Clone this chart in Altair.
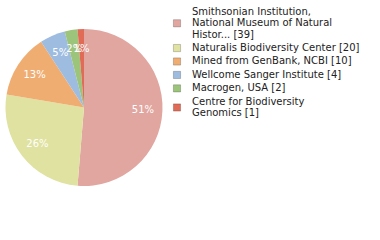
import altair as alt
import pandas as pd

labels = [
    "Smithsonian Institution,\nNational Museum of Natural\nHistor... [39]",
    "Naturalis Biodiversity Center [20]",
    "Mined from GenBank, NCBI [10]",
    "Wellcome Sanger Institute [4]",
    "Macrogen, USA [2]",
    "Centre for Biodiversity\nGenomics [1]",
]
counts = [39, 20, 10, 4, 2, 1]
pct_text = ["51%", "26%", "13%", "5%", "2%", "1%"]
colors = ["#e0a69f", "#dfe2a0", "#f0ad72", "#9dbce0", "#9dc47b", "#e06c58"]

# pie data
df = pd.DataFrame({"label": labels, "count": counts, "pct": pct_text,
                   "order": list(range(len(labels)))})

color_scale = alt.Scale(domain=labels, range=colors)

base = alt.Chart(df).encode(
    theta=alt.Theta("count:Q", stack=True),
    order=alt.Order("order:Q"),
)
pie = base.mark_arc(outerRadius=78.5).encode(
    color=alt.Color("label:N", scale=color_scale, legend=None)
)
text = base.mark_text(radius=59, font="DejaVu Sans", fontSize=10, color="white").encode(
    text="pct:N"
)
pie_chart = (pie + text).properties(width=168, height=215)

# legend layout in "line units": lines inside an entry are 1 unit apart,
# consecutive entries are GAP units apart
GAP = 1.19
line_rows = []
sym_rows = []
start = 0.0
for i, lab in enumerate(labels):
    parts = lab.split("\n")
    for j, p in enumerate(parts):
        line_rows.append({"label": lab, "line": p, "pos": start + j})
    sym_rows.append({"label": lab, "pos": start + (len(parts) - 1) / 2})
    start = start + (len(parts) - 1) + GAP

LINE_PX = 11.3
TOP_PX = 12.0
H = 215
yscale = alt.Scale(domain=[-TOP_PX / LINE_PX, (H - TOP_PX) / LINE_PX], range=[0, H], nice=False, zero=False)

lines_df = pd.DataFrame(line_rows)
syms_df = pd.DataFrame(sym_rows)

leg_text = alt.Chart(lines_df).mark_text(
    align="left", baseline="middle", font="DejaVu Sans", fontSize=10, color="#222222"
).encode(
    x=alt.value(24),
    y=alt.Y("pos:Q", scale=yscale, axis=None),
    text="line:N",
)
leg_sym = alt.Chart(syms_df).mark_square(size=52, stroke="#000000", strokeOpacity=0.25,
                                         strokeWidth=0.8, opacity=1).encode(
    x=alt.value(9),
    y=alt.Y("pos:Q", scale=yscale, axis=None),
    fill=alt.Fill("label:N", scale=color_scale, legend=None),
)
legend_chart = (leg_sym + leg_text).properties(width=212, height=H)

chart = alt.hconcat(pie_chart, legend_chart, spacing=0).properties(
    padding={"left": 0, "top": 0, "right": 0, "bottom": 0}
).configure_view(stroke=None)

chart.save("out.html", embed_options={"renderer": "svg", "actions": False})
